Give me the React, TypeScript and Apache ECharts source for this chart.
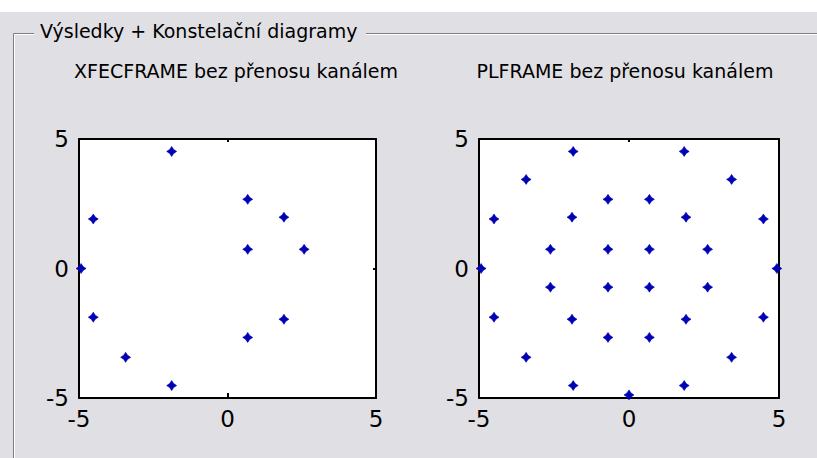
import React, { useEffect, useRef } from "react";
import * as echarts from "echarts";

// Axis ticks shown on both plots
const axisTicks = [-5, 0, 5];

// XFECFRAME constellation (left plot)
const xfecX = [-1.88, 0.68, 1.9, 0.68, 2.58, -4.52, -4.93, -4.52, -3.43, -1.88, 0.68, 1.9];
const xfecY = [4.52, 2.67, 1.98, 0.74, 0.74, 1.91, 0, -1.88, -3.43, -4.52, -2.66, -1.96];

// PLFRAME constellation (right plot)
const plX = [
  -0.7, 0.68, -0.7, 0.68,
  -0.7, 0.68, -1.9, 1.9, -2.62, 2.62, -2.62, 2.62, -1.9, 1.9, -0.7, 0.68,
  -1.86, 1.84, -3.43, 3.42, -4.5, 4.48, -4.93, 4.93, -4.5, 4.48, -3.43, 3.42, -1.86, 1.84, 0,
];
const plY = [
  0.74, 0.74, -0.72, -0.72,
  2.67, 2.67, 1.98, 1.98, 0.74, 0.74, -0.72, -0.72, -1.96, -1.96, -2.66, -2.66,
  4.52, 4.52, 3.44, 3.44, 1.91, 1.91, 0, 0, -1.88, -1.88, -3.43, -3.43, -4.52, -4.52, -4.88,
];

const plotTitles = ["XFECFRAME bez přenosu kanálem", "PLFRAME bez přenosu kanálem"];
const groupLabel = "Výsledky + Konstelační diagramy";

export default function App() {
  const ref = useRef<HTMLDivElement>(null);

  useEffect(() => {
    const el = ref.current;
    if (!el) return;
    const chart = echarts.init(el, null, { renderer: "svg" });
    const font = "DejaVu Sans";
    const black = { color: "#000", width: 2 };
    const gridBoxes = [
      { left: 79, top: 139, width: 297, height: 259 },
      { left: 479, top: 139, width: 300, height: 259 },
    ];
    const grids = gridBoxes.map((g) => ({
      ...g,
      show: true,
      backgroundColor: "#ffffff",
      borderWidth: 0,
    }));

    const labelStyle = {
      color: "#000",
      fontFamily: font,
      fontSize: 23,
      lineHeight: 23,
    };

    const makeAxis = (gi: number, pos: string, labels: boolean, tickLen: number, isX: boolean) => ({
      type: "value",
      gridIndex: gi,
      position: pos,
      min: axisTicks[0],
      max: axisTicks[axisTicks.length - 1],
      interval: axisTicks[1] - axisTicks[0],
      axisLine: { show: true, onZero: false, lineStyle: black },
      axisTick: { show: true, inside: true, length: tickLen, lineStyle: black },
      axisLabel: {
        show: labels,
        margin: isX ? 9 : 10,
        showMinLabel: true,
        showMaxLabel: true,
        ...labelStyle,
      },
      splitLine: { show: false },
    });

    const xAxes: any[] = [];
    const yAxes: any[] = [];
    [0, 1].forEach((gi) => {
      xAxes.push(makeAxis(gi, "bottom", true, 5, true));
      xAxes.push(makeAxis(gi, "top", false, 3, true));
      yAxes.push(makeAxis(gi, "left", true, 4, false));
      yAxes.push(makeAxis(gi, "right", false, 3, false));
    });

    const marker =
      "path://M0,-10 L4,-4 L10,0 L4,4 L0,10 L-4,4 L-10,0 L-4,-4 Z";
    const blue = "#0000b4";

    const series = [
      { xs: xfecX, ys: xfecY },
      { xs: plX, ys: plY },
    ].map((s, gi) => ({
      type: "scatter",
      xAxisIndex: gi * 2,
      yAxisIndex: gi * 2,
      symbol: marker,
      symbolSize: 10,
      clip: false,
      itemStyle: { color: blue, opacity: 1, borderColor: blue, borderWidth: 0.6 },
      data: s.xs.map((x, i) => [x, s.ys[i]]),
    }));

    const grey = "#808080";
    const titleStyle = { fill: "#000", fontFamily: font, fontSize: 19 };

    chart.setOption({
      animation: false,
      backgroundColor: "#e0dfe3",
      grid: grids,
      xAxis: xAxes,
      yAxis: yAxes,
      series,
      graphic: [
        { type: "rect", shape: { x: 0, y: 0, width: 817, height: 12 }, style: { fill: "#ffffff" }, silent: true },
        // group box frame (etched)
        { type: "line", shape: { x1: 13.5, y1: 33.5, x2: 34, y2: 33.5 }, style: { stroke: grey, lineWidth: 1 } },
        { type: "line", shape: { x1: 14.5, y1: 34.5, x2: 34, y2: 34.5 }, style: { stroke: "#fff", lineWidth: 1 } },
        { type: "line", shape: { x1: 366, y1: 33.5, x2: 817, y2: 33.5 }, style: { stroke: grey, lineWidth: 1 } },
        { type: "line", shape: { x1: 366, y1: 34.5, x2: 817, y2: 34.5 }, style: { stroke: "#fff", lineWidth: 1 } },
        { type: "line", shape: { x1: 13.5, y1: 33.5, x2: 13.5, y2: 458 }, style: { stroke: grey, lineWidth: 1 } },
        { type: "line", shape: { x1: 14.5, y1: 34.5, x2: 14.5, y2: 458 }, style: { stroke: "#fff", lineWidth: 1 } },
        {
          type: "text",
          x: 40,
          y: 31,
          style: { text: groupLabel, ...titleStyle, textAlign: "left", textVerticalAlign: "middle" },
        },
        {
          type: "text",
          x: 236,
          y: 71,
          style: { text: plotTitles[0], ...titleStyle, textAlign: "center", textVerticalAlign: "middle" },
        },
        {
          type: "text",
          x: 625,
          y: 71,
          style: { text: plotTitles[1], ...titleStyle, textAlign: "center", textVerticalAlign: "middle" },
        },
      ],
    });

    return () => chart.dispose();
  }, []);

  return (
    <div
      ref={ref}
      style={{ position: "fixed", left: 0, top: 0, width: 817, height: 458 }}
    />
  );
}
